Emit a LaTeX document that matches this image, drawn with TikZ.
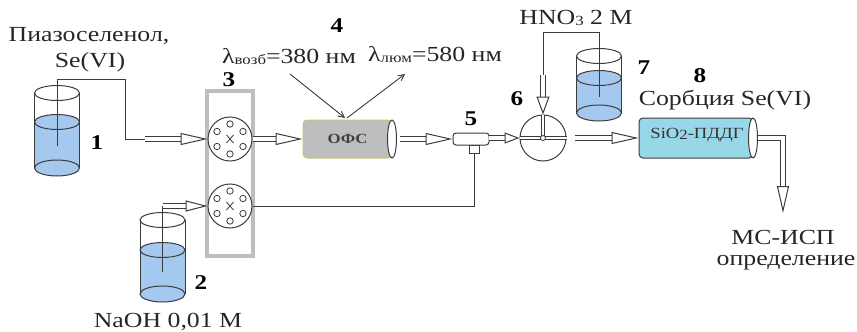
\documentclass[tikz,border=0pt]{standalone}
\usepackage{fontspec}
\setmainfont[FakeStretch=1.2]{Liberation Serif}
\usetikzlibrary{arrows.meta,shapes.geometric}
\definecolor{water}{RGB}{165,200,238}
\definecolor{linegray}{RGB}{60,60,60}
\definecolor{framegray}{RGB}{190,190,190}
\definecolor{ofsgray}{RGB}{190,190,190}
\definecolor{ofsedge}{RGB}{205,195,120}
\definecolor{sorbblue}{RGB}{150,215,232}
\tikzset{
  pipe/.style={draw=linegray,line width=1pt},
  flow/.style={draw=linegray,line width=1pt,double=white,double distance=3.5pt,
    -{Triangle[length=27pt,width=12pt,fill=white,line width=1pt]}},
  flowshort/.style={flow,-{Triangle[length=15pt,width=11pt,fill=white,line width=1pt]}},
  innertube/.style={draw=linegray,line width=.9pt,double=white,double distance=2.2pt},
  valve/.style={circle,draw=linegray,fill=white,line width=1pt,minimum size=44pt,inner sep=0pt},
  column/.style={draw=linegray,line width=1pt,rounded corners=4pt,inner sep=0pt},
  columnend/.style={ellipse,draw=linegray,fill=white,line width=1pt,inner sep=0pt,minimum width=9pt,minimum height=38pt},
  label/.style={inner sep=0pt,font=\fontsize{21.5}{21.5}\selectfont,text=black!85},
  num/.style={inner sep=0pt,font=\fontsize{21}{21}\selectfont\bfseries},
  beam/.style={draw=linegray,line width=.9pt,-{Straight Barb[length=6pt,width=6pt]}}
}
\newcommand{\beaker}[4]{% centre x, top y, water y, bottom y
  \fill[water] (#1-22.5,#3) -- (#1-22.5,#4) arc[start angle=180,end angle=360,x radius=22.5pt,y radius=8pt]
    -- (#1+22.5,#3) arc[start angle=0,end angle=-180,x radius=22.5pt,y radius=8pt] -- cycle;
  \draw[pipe,fill=water] (#1,#3) ellipse[x radius=22.5pt,y radius=7.5pt];
  \draw[pipe] (#1,#4) ellipse[x radius=22.5pt,y radius=8pt];
  \draw[pipe] (#1,#2) ellipse[x radius=22.5pt,y radius=7.5pt];
  \draw[pipe] (#1-22.5,#2) -- (#1-22.5,#4) (#1+22.5,#2) -- (#1+22.5,#4);
}
\newcommand{\holes}[1]{% holes of a rotary valve
  \foreach \a in {90,30,-30,-90,210,150}
    \draw[linegray,line width=.8pt] (#1.center) ++(\a:15pt) circle[radius=3.2pt];
  \draw[linegray,line width=.8pt] (#1.center) ++(-3.5pt,-4pt) -- ++(7pt,8pt) ++(-7pt,0pt) -- ++(7pt,-8pt);
}
\newcommand{\low}[1]{\raisebox{-1pt}{\fontsize{14}{14}\selectfont #1}}
\begin{document}
\begin{tikzpicture}[x=1pt,y=-1pt]
  \useasboundingbox (0,0) rectangle (857,332);
  % vessels
  \beaker{57}{93}{122}{168}
  \beaker{162.5}{220}{250}{294}
  \beaker{599}{56}{78}{113}
  % valves
  \draw[framegray,line width=4pt] (207,91) rectangle (253,256);
  \node[valve] (valvea) at (230,139) {};
  \node[valve] (valveb) at (230,206) {};
  \holes{valvea}
  \holes{valveb}
  % columns
  \node[column,fill=ofsgray,draw=ofsedge,minimum width=89pt,minimum height=38pt,
    font=\fontsize{14}{14}\selectfont\bfseries,text=black!75] (ofs) at (347.5,139) {ОФС};
  \node[columnend] (ofsend) at (392,139) {};
  \node[column,fill=sorbblue,minimum width=114pt,minimum height=40pt] (sorb) at (696,138) {};
  \node[columnend,minimum height=40pt] (sorbend) at (753,138) {};
  \node[inner sep=0pt,font=\fontsize{15.5}{15.5}\selectfont,text=black!80] (sorbtext) at (697,135) {SiO\low{2}-ПДДГ};
  % tee
  \node[draw=linegray,fill=white,line width=1pt,minimum width=10pt,minimum height=8pt,inner sep=0pt] (teestem) at (474,149) {};
  \node[draw=linegray,fill=white,line width=1pt,rounded corners=3pt,minimum width=36pt,minimum height=12pt,inner sep=0pt] (tee) at (471,139) {};
  % injection valve
  \node[valve,minimum size=46pt] (inj) at (543,138) {};
  \coordinate (injhub) at (543,138);
  \draw[innertube] (inj.north) -- (injhub);
  \draw[innertube] (inj.west) -- (inj.east);
  \node[draw=linegray,fill=white,line width=.8pt,circle,minimum size=5pt,inner sep=0pt] (hub) at (injhub) {};
  % free ends of tubes
  \coordinate (dipa) at (57,146);
  \coordinate (cornera) at (125,79);
  \coordinate (starta) at (145,139);
  \coordinate (dipb) at (162.5,272);
  \coordinate (startb) at (162.5,206);
  \coordinate (dipc) at (599,97);
  \coordinate (cornerc) at (543,32);
  \coordinate (startc) at (543,75);
  \coordinate (bend) at (783,138);
  \coordinate (exit) at (783,213);
  \coordinate (exa) at (290,74);
  \coordinate (emb) at (405,74);
  \coordinate (lighta) at (345,118);
  \coordinate (lightb) at (347,118);
  \coordinate (ofsout) at (400,139);
  \coordinate (teeout) at (489,138);
  \coordinate (injout) at (575,138);
  % tubes
  \draw[pipe] (dipa) |- (cornera) |- (starta);
  \draw[flow] (starta) -- (valvea.west);
  \draw[pipe] (dipb) -- (startb);
  \draw[flow,-{Triangle[length=22pt,width=11pt,fill=white,line width=1pt]}] (startb) -- (valveb.west);
  \draw[pipe] (valveb.east) -| (teestem.south);
  \draw[flow] (valvea.east) -- (ofs.west);
  \draw[flow] (ofsout) -- (tee.west);
  \draw[flowshort] (teeout) -- (inj.west);
  \draw[pipe] (dipc) |- (cornerc) -- (startc);
  \draw[flow,-{Triangle[length=18pt,width=13pt,fill=white,line width=1pt]}] (startc) -- (inj.north);
  \draw[flow] (injout) -- (sorb.west);
  \draw[flow] (sorbend.east) -- (bend) -- (exit);
  % light
  \draw[beam] (exa) -- (lighta);
  \draw[beam] (lightb) -- (emb);
  % labels
  \node[label] (lsample) at (89,36) {Пиазоселенол,};
  \node[label] (lse) at (90,62) {Se(VI)};
  \node[label] (lnaoh) at (168,322) {NaOH 0,01 М};
  \node[label] (lexc) at (289,56) {λ\low{возб}=380 нм};
  \node[label] (lem) at (435,54) {λ\low{люм}=580 нм};
  \node[label] (lhno) at (576,18) {HNO\low{3} 2 М};
  \node[label] (lsorb) at (725,100) {Сорбция Se(VI)};
  \node[label] (lms) at (783,237) {МС-ИСП};
  \node[label] (ldet) at (786,263) {определение};
  % numbers
  \node[num] (n1) at (97,143) {1};
  \node[num] (n2) at (201,283) {2};
  \node[num] (n3) at (229,80) {3};
  \node[num] (n4) at (337,26) {4};
  \node[num] (n5) at (471,119) {5};
  \node[num] (n6) at (517,99) {6};
  \node[num] (n7) at (644,68) {7};
  \node[num] (n8) at (700,76) {8};
\end{tikzpicture}
\end{document}
